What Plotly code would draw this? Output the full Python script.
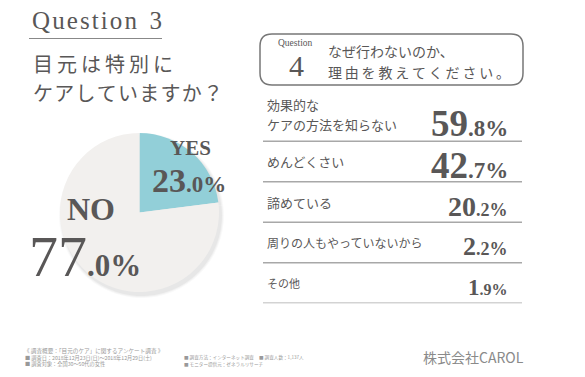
import plotly.graph_objects as go

# ---------------- data ----------------
pie_labels = ["YES", "NO"]
pie_values = [23.0, 77.0]

reasons = [
    "効果的な<br>ケアの方法を知らない",
    "めんどくさい",
    "諦めている",
    "周りの人もやっていないから",
    "その他",
]
reason_values = [59.8, 42.7, 20.2, 2.2, 1.9]

footer_title = "《 調査概要：「目元のケア」に関するアンケート調査 》"
footer_col1 = ["■ 調査日：2018年12月23日(日)～2018年12月29日(土)", "■ 調査対象：全国30～50代の女性"]
footer_col2 = ["■ 調査方法：インターネット調査", "■ モニター提供元：ゼネラルリサーチ"]
footer_col3 = ["■ 調査人数：1,137人"]
company = "株式会社CAROL"

# ---------------- style ----------------
PAGE_W, PAGE_H, BODY_M = 585, 377, 8
W, H = PAGE_W - 2 * BODY_M, PAGE_H - 2 * BODY_M
TXT = "#595757"
SERIF = "Liberation Serif"
JP = "Noto Sans CJK JP"
BLUE = "#92cfd8"
GREY = "#f2f0ee"
HS = "\u200a"   # hair space (letter spacing)
TS = "\u2009"   # thin space
ES = "\u2002"   # en space


def px(x):
    return (x - BODY_M) / W


def py(y):
    return 1 - (y - BODY_M) / H


def spaced(s, sep):
    return sep.join(list(s))


def text_at(x, y, text, font, xanchor="left", xref="paper", yref="paper"):
    return dict(x=px(x) if xref == "paper" else x, y=py(y) if yref == "paper" else y,
                xref=xref, yref=yref, xanchor=xanchor, yanchor="middle",
                text=text, showarrow=False, borderpad=0, align="left", font=font)


fig = go.Figure()

# soft shadow behind the pie
PL, PR, PT, PB = 60, 219, 133, 292
for k, alpha in [(6, 0.025), (4, 0.03), (2, 0.04)]:
    fig.add_trace(go.Pie(
        labels=pie_labels, values=pie_values, sort=False, direction="clockwise",
        rotation=0, textinfo="none", hoverinfo="skip",
        marker=dict(colors=[f"rgba(0,0,0,{alpha})"] * 2, line=dict(width=0)),
        domain=dict(x=[px(PL + 2 - k / 2), px(PR + 2 + k / 2)], y=[py(PB + 3 + k / 2), py(PT + 3 - k / 2)]),
        showlegend=False,
    ))

# pie
fig.add_trace(go.Pie(
    labels=pie_labels, values=pie_values, sort=False, direction="clockwise",
    rotation=0, textinfo="none", hoverinfo="label+percent",
    marker=dict(colors=[BLUE, GREY], line=dict(width=0)),
    domain=dict(x=[px(PL), px(PR)], y=[py(PB), py(PT)]),
    showlegend=False,
))

# invisible trace to anchor the right-panel axes
fig.add_trace(go.Scatter(x=[0, 1], y=[0, 0], mode="markers",
                         marker=dict(opacity=0), hoverinfo="skip",
                         xaxis="x", yaxis="y", showlegend=False))

fig.update_layout(
    width=W, height=H, margin=dict(l=0, r=0, t=0, b=0),
    paper_bgcolor="white", plot_bgcolor="rgba(0,0,0,0)",
    xaxis=dict(domain=[px(263), px(522)], range=[0, 1], visible=False, fixedrange=True),
    yaxis=dict(domain=[py(303.25), py(96.7)], range=[4.5, -0.6], visible=False, fixedrange=True),
)

ann = []
shapes = []

# title
ann.append(text_at(31, 21, spaced("Question", HS) + ES + "3", dict(family=SERIF, size=25, color=TXT)))
shapes.append(dict(type="line", xref="paper", yref="paper", x0=px(29), x1=px(162), y0=py(38.5), y1=py(38.5),
                   line=dict(color="#888888", width=1)))
ann.append(text_at(32, 63.5, spaced("目元は特別に", TS), dict(family=JP, size=20, color=TXT)))
ann.append(text_at(32, 93, spaced("ケアしていますか？", HS), dict(family=JP, size=20, color=TXT)))

# question 4 rounded box
x0, x1, y0, y1, r = 260, 523, 34, 85, 12
path = (f"M {px(x0 + r)},{py(y0)} L {px(x1 - r)},{py(y0)} Q {px(x1)},{py(y0)} {px(x1)},{py(y0 + r)} "
        f"L {px(x1)},{py(y1 - r)} Q {px(x1)},{py(y1)} {px(x1 - r)},{py(y1)} "
        f"L {px(x0 + r)},{py(y1)} Q {px(x0)},{py(y1)} {px(x0)},{py(y1 - r)} "
        f"L {px(x0)},{py(y0 + r)} Q {px(x0)},{py(y0)} {px(x0 + r)},{py(y0)} Z")
shapes.append(dict(type="path", xref="paper", yref="paper", path=path,
                   line=dict(color="#777777", width=1.5)))
ann.append(text_at(295, 43, "Question", dict(family=SERIF, size=9.5, color=TXT), xanchor="center"))
ann.append(text_at(296, 65, "4", dict(family=SERIF, size=30, color=TXT), xanchor="center"))
ann.append(text_at(327, 51.5, "なぜ行わないのか、", dict(family=JP, size=14, color=TXT)))
ann.append(text_at(327, 72, spaced("理由を教えてください。", TS), dict(family=JP, size=14, color=TXT)))


def split(v):
    s = f"{v:.1f}"
    a, b = s.split(".")
    return a, "." + b


# pie labels
yes_v, no_v = pie_values
ya, yb = split(yes_v)
na, nb = split(no_v)
ann.append(text_at(190, 148, f"<b>{pie_labels[0]}</b>", dict(family=SERIF, size=21, color=TXT), xanchor="center"))
ann.append(text_at(189, 180,
                   f"<b><span style='font-size:34px'>{ya}</span><span style='font-size:23px'>{yb}%</span></b>",
                   dict(family=SERIF, size=34, color=TXT), xanchor="center"))
ann.append(text_at(91, 209, f"<b>{pie_labels[1]}</b>", dict(family=SERIF, size=32, color=TXT), xanchor="center"))
ann.append(text_at(28, 256,
                   f"<span style='font-size:58px'>{na}</span><b><span style='font-size:31px'>{nb}%</span></b>",
                   dict(family=SERIF, size=58, color=TXT)))

# reasons table
label_sizes = [13, 13, 13, 12, 11]
int_sizes = [37, 37, 28, 26, 23]
dec_sizes = [23, 23, 18, 18, 16]
for i, (lab, v) in enumerate(zip(reasons, reason_values)):
    a, b = split(v)
    lines = lab.split("<br>")
    n = len(lines)
    for j, line in enumerate(lines):
        # 0.495 axis units ~ 20 px between wrapped lines
        ann.append(text_at(0.01, i - 0.15 + (j - (n - 1) / 2) * 0.495 if n > 1 else i, line,
                           dict(family=JP, size=label_sizes[i], color=TXT), xref="x", yref="y"))
    ann.append(text_at(0.95, i + (0.05 if i == 0 else 0.1),
                       f"<b><span style='font-size:{int_sizes[i]}px'>{a}</span>"
                       f"<span style='font-size:{dec_sizes[i]}px'>{b}%</span></b>",
                       dict(family=SERIF, size=int_sizes[i], color=TXT), xanchor="right", xref="x", yref="y"))
    shapes.append(dict(type="line", xref="x", yref="y", x0=0, x1=1, y0=i + 0.5, y1=i + 0.5,
                       line=dict(color="#a8a8a8", width=1.5)))

# footer
FOOT = dict(family=JP, size=5.2, color="#999999")
FOOT_S = dict(family=JP, size=4.6, color="#999999")
ann.append(text_at(23, 351, footer_title, dict(family=JP, size=5.6, color="#999999")))
for j, t in enumerate(footer_col1):
    ann.append(text_at(24, 357.5 + 6.5 * j, t, FOOT))
for j, t in enumerate(footer_col2):
    ann.append(text_at(183, 357.5 + 6.5 * j, t, FOOT_S))
for j, t in enumerate(footer_col3):
    ann.append(text_at(258, 357.5 + 6.5 * j, t, FOOT_S))
ann.append(text_at(422, 357, company, dict(family=JP, size=14, color="#8a8a8a")))

fig.update_layout(annotations=ann, shapes=shapes)
fig.write_html("out.html")
